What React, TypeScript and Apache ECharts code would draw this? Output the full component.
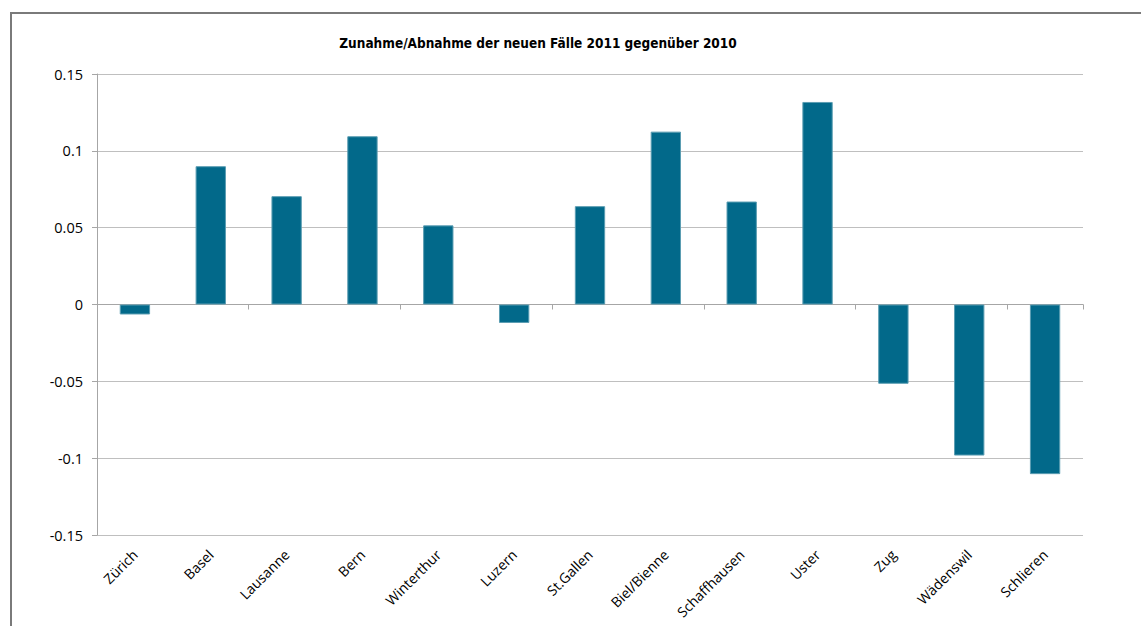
import React, { useEffect, useRef } from "react";
import * as echarts from "echarts";

const categories = [
  "Zürich", "Basel", "Lausanne", "Bern", "Winterthur", "Luzern", "St.Gallen",
  "Biel/Bienne", "Schaffhausen", "Uster", "Zug", "Wädenswil", "Schlieren",
];
const changeValues = [
  -0.0065, 0.09, 0.0705, 0.1095, 0.0515, -0.012, 0.064,
  0.1125, 0.067, 0.1318, -0.0516, -0.0983, -0.1104,
];
const titleText = "Zunahme/Abnahme der neuen Fälle 2011 gegenüber 2010";

export default function App() {
  const ref = useRef<HTMLDivElement>(null);
  useEffect(() => {
    if (!ref.current) return;
    const chart = echarts.init(ref.current, undefined, { renderer: "svg" });
    const font = "'Open Sans', 'DejaVu Sans', sans-serif";
    chart.setOption({
      animation: false,
      backgroundColor: "#ffffff",
      graphic: [
        {
          type: "polyline",
          shape: { points: [[11, 700], [11, 13], [1200, 13]] },
          style: { stroke: "#7a7a7a", lineWidth: 2, fill: null },
          silent: true,
        },
        {
          type: "text",
          x: 538,
          y: 43,
          style: {
            text: titleText,
            fill: "#000",
            font: "bold 13.5px 'DejaVu Sans Condensed', 'DejaVu Sans', sans-serif",
            textAlign: "center",
            textVerticalAlign: "middle",
          },
        },
      ],
      grid: { left: 97, top: 74, right: 58, bottom: 91, containLabel: false },
      xAxis: [
        {
          type: "category",
          data: categories,
          position: "bottom",
          axisLine: { show: true, onZero: true, lineStyle: { color: "#a6a6a6", width: 1 } },
          axisTick: { show: true, length: 5, lineStyle: { color: "#a6a6a6" } },
          axisLabel: { show: false },
          splitLine: { show: false },
        },
        {
          type: "category",
          data: categories,
          position: "bottom",
          axisLine: { show: false, onZero: false },
          axisTick: { show: false },
          axisLabel: {
            show: true,
            rotate: 45,
            interval: 0,
            margin: 17,
            color: "#000",
            fontSize: 14,
            fontFamily: font,
          },
        },
      ],
      yAxis: {
        type: "value",
        min: -0.15,
        max: 0.15,
        interval: 0.05,
        axisLine: { show: true, lineStyle: { color: "#a6a6a6", width: 1 } },
        axisTick: { show: true, length: 5, lineStyle: { color: "#a6a6a6" } },
        axisLabel: {
          color: "#000",
          fontSize: 14.5,
          fontFamily: font,
          margin: 14,
          formatter: (v: number) => String(Math.round(v * 100) / 100),
        },
        splitLine: { show: true, lineStyle: { color: "#bfbfbf", width: 1 } },
      },
      series: [
        {
          type: "bar",
          data: changeValues,
          xAxisIndex: 0,
          barWidth: "40%",
          itemStyle: { color: "#02698a", borderColor: "#5b9db2", borderWidth: 1 },
        },
      ],
    });
    return () => chart.dispose();
  }, []);
  return (
    <div
      ref={ref}
      style={{ position: "fixed", left: 0, top: 0, width: 1141, height: 626 }}
    />
  );
}
